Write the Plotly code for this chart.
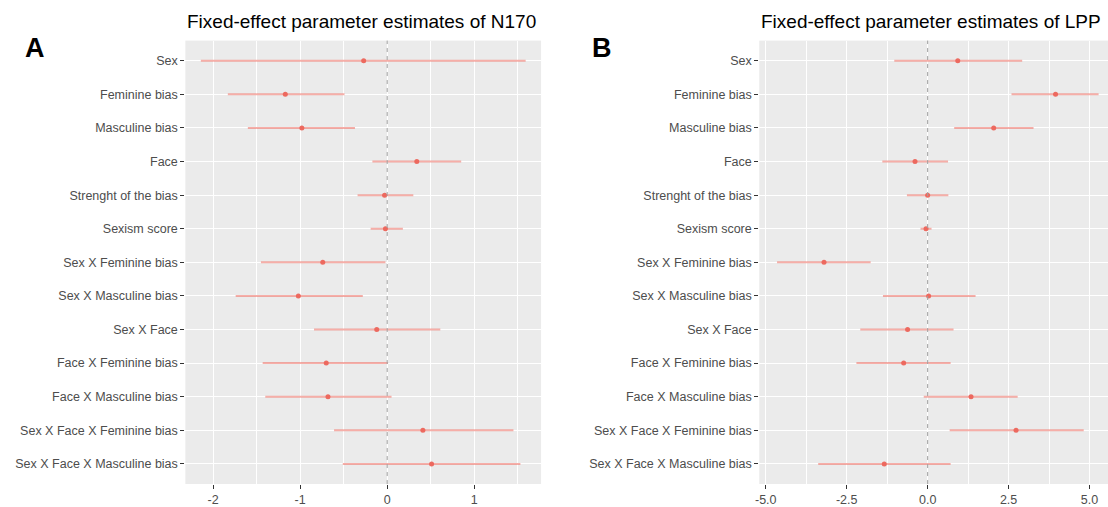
import plotly.graph_objects as go

terms = ["Sex", "Feminine bias", "Masculine bias", "Face", "Strenght of the bias",
         "Sexism score", "Sex X Feminine bias", "Sex X Masculine bias", "Sex X Face",
         "Face X Feminine bias", "Face X Masculine bias",
         "Sex X Face X Feminine bias", "Sex X Face X Masculine bias"]

n170_est = [-0.27, -1.17, -0.98, 0.34, -0.03, -0.02, -0.74, -1.02, -0.12, -0.70, -0.68, 0.41, 0.51]
n170_lo = [-2.14, -1.83, -1.60, -0.17, -0.34, -0.19, -1.45, -1.74, -0.84, -1.43, -1.40, -0.61, -0.51]
n170_hi = [1.59, -0.49, -0.37, 0.85, 0.30, 0.18, -0.02, -0.28, 0.61, 0.01, 0.05, 1.45, 1.53]

lpp_est = [0.93, 3.95, 2.04, -0.39, 0.00, -0.05, -3.20, 0.03, -0.62, -0.74, 1.34, 2.73, -1.34]
lpp_lo = [-1.03, 2.59, 0.82, -1.40, -0.64, -0.22, -4.65, -1.38, -2.08, -2.20, -0.12, 0.68, -3.38]
lpp_hi = [2.92, 5.28, 3.27, 0.63, 0.64, 0.12, -1.76, 1.48, 0.80, 0.71, 2.78, 4.82, 0.71]

n170_ticks = [-2, -1, 0, 1]
n170_ticktext = ["-2", "-1", "0", "1"]
lpp_ticks = [-5.0, -2.5, 0.0, 2.5, 5.0]
lpp_ticktext = ["-5.0", "-2.5", "0.0", "2.5", "5.0"]

titles = ["Fixed-effect parameter estimates of N170", "Fixed-effect parameter estimates of LPP"]
panel_letters = ["A", "B"]

W, H = 1108, 507
FONT = "Liberation Sans, Arial, sans-serif"
ERR_COL = "rgba(240,120,110,0.6)"
PT_COL = "rgba(236,100,90,0.95)"

fig = go.Figure()

# dashed reference line at zero
for xr, yr in [("x", "y domain"), ("x2", "y2 domain")]:
    fig.add_shape(type="line", xref=xr, yref=yr, x0=0, x1=0, y0=0, y1=1,
                  line=dict(color="#A0A0A0", width=1, dash="4px,4px"), layer="above")

def add_panel(est, lo, hi, xa, ya):
    fig.add_trace(go.Scatter(
        x=est, y=terms, mode="markers", xaxis=xa, yaxis=ya,
        marker=dict(size=5, color=PT_COL),
        error_x=dict(type="data", symmetric=False,
                     array=[h - e for h, e in zip(hi, est)],
                     arrayminus=[e - l for e, l in zip(est, lo)],
                     color=ERR_COL, thickness=2, width=0),
        showlegend=False, hoverinfo="skip"))

add_panel(n170_est, n170_lo, n170_hi, "x", "y")
add_panel(lpp_est, lpp_lo, lpp_hi, "x2", "y2")

ndom = len(terms)
yrange = [ndom - 1 + 0.6, -0.6]
ydom = [1 - 485 / H, 1 - 40.7 / H]

def xaxis_cfg(dom, rng, tv, tt, minor_step, anchor):
    return dict(domain=dom, range=rng, tickvals=tv, ticktext=tt, anchor=anchor,
                showgrid=True, gridcolor="white", gridwidth=1.3, zeroline=False,
                ticks="outside", ticklen=4, tickwidth=1, tickcolor="#333333",
                tickfont=dict(family=FONT, size=12.5, color="#4D4D4D"),
                minor=dict(dtick=minor_step, tick0=minor_step / 2, showgrid=True,
                           gridcolor="white", gridwidth=0.6),
                showline=False, fixedrange=True)

def yaxis_cfg(anchor):
    return dict(domain=ydom, range=yrange, type="category",
                categoryorder="array", categoryarray=terms, anchor=anchor,
                showgrid=True, gridcolor="white", gridwidth=1.3, zeroline=False,
                ticks="outside", ticklen=4, tickwidth=1, tickcolor="#333333",
                tickfont=dict(family=FONT, size=12.5, color="#4D4D4D"),
                showline=False, fixedrange=True)

x1dom = [182 / W, 539 / W]
x2dom = [758 / W, 1.0]

fig.update_layout(
    width=W, height=H, margin=dict(l=0, r=0, t=0, b=0),
    paper_bgcolor="white", plot_bgcolor="#EBEBEB",
    xaxis=xaxis_cfg(x1dom, [-2.318, 1.767], n170_ticks, n170_ticktext, 1.0, "y"),
    yaxis=yaxis_cfg("x"),
    xaxis2=xaxis_cfg(x2dom, [-5.2, 5.57], lpp_ticks, lpp_ticktext, 2.5, "y2"),
    yaxis2=yaxis_cfg("x2"),
)

title_y = 1 - 22 / H
for dom, t in zip([x1dom, x2dom], titles):
    fig.add_annotation(text=t, xref="paper", yref="paper", x=dom[0], y=title_y,
                       xanchor="left", yanchor="middle", showarrow=False,
                       font=dict(family=FONT, size=19, color="black"))

for xpx, letter in zip([31, 600], panel_letters):
    fig.add_annotation(text="<b>" + letter + "</b>", xref="paper", yref="paper",
                       x=xpx / W, y=1 - 48.5 / H, xanchor="center", yanchor="middle",
                       showarrow=False, font=dict(family=FONT, size=27, color="black"))

fig.write_html("out.html", config={"displayModeBar": False},
               post_script="document.body.style.margin='0';")
